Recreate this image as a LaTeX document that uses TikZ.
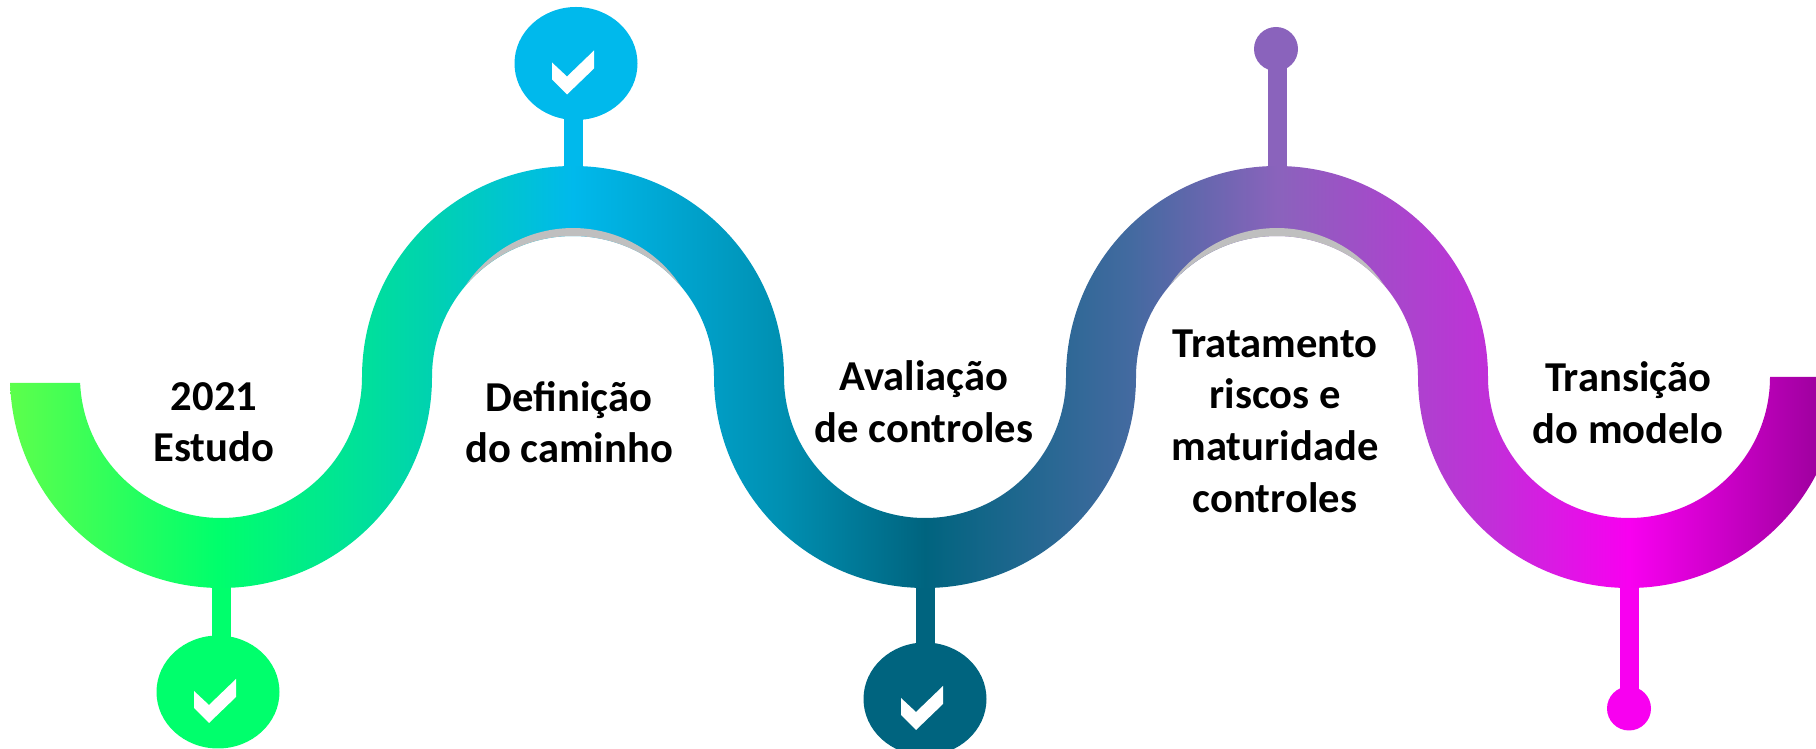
\documentclass[tikz,border=0pt]{standalone}
\usepackage{fontspec}
\setmainfont{Carlito}
\usetikzlibrary{shapes.geometric}

\definecolor{lime}{HTML}{5CFF4C}
\definecolor{spring}{HTML}{00FF6C}
\definecolor{teal1}{HTML}{00D2B0}
\definecolor{sky}{HTML}{00B9EC}
\definecolor{ocean}{HTML}{0090B2}
\definecolor{petrol}{HTML}{00647F}
\definecolor{slate}{HTML}{436AA0}
\definecolor{violet1}{HTML}{8A63BC}
\definecolor{orchid}{HTML}{C030D8}
\definecolor{magenta1}{HTML}{F800F0}
\definecolor{plum1}{HTML}{A000A0}

\pgfdeclarehorizontalshading{ribbonfill}{100bp}{
color(0bp)=(lime); color(25.3bp)=(lime); color(31bp)=(spring);
color(36.84bp)=(teal1); color(40.78bp)=(sky); color(46.48bp)=(ocean);
color(50.47bp)=(petrol); color(56.11bp)=(slate); color(60.16bp)=(violet1);
color(65.97bp)=(orchid); color(69.85bp)=(magenta1); color(75bp)=(plum1);
color(100bp)=(plum1)}

\tikzset{
stagetext/.style={align=center, font=\fontsize{21.3}{25.8}\selectfont\bfseries},
bigdot/.style={ellipse, inner sep=0pt, minimum width=61.5pt, minimum height=56.5pt},
smalldot/.style={circle, inner sep=0pt, minimum size=22pt},
stem/.style={line width=9.5pt}
}

\newcommand{\tickmark}[1]{
\fill[white, shift={(#1.center)}] (-24,1) -- (-24,-16) -- (-9,-31) -- (18,-5) -- (18,13) -- (-9,-13) -- cycle;
}

\begin{document}
\begin{tikzpicture}[x=.5pt,y=.5pt]
\useasboundingbox (0,0) rectangle (1816,749);

\node[bigdot, fill=spring] (dot1) at (218,57) {};
\node[bigdot, fill=sky] (dot2) at (576,685.5) {};
\node[bigdot, fill=petrol] (dot3) at (925,50) {};
\node[smalldot, fill=violet1] (dot4) at (1276,700) {};
\node[smalldot, fill=magenta1] (dot5) at (1629,40.5) {};

\coordinate (root1) at (221,170);
\coordinate (root2) at (573,575);
\coordinate (root3) at (925,170);
\coordinate (root4) at (1277,575);
\coordinate (root5) at (1629,170);

\draw[stem, spring] (root1) -- (root1 |- dot1);
\draw[stem, sky] (root2) -- (root2 |- dot2);
\draw[stem, petrol] (root3) -- (root3 |- dot3);
\draw[stem, violet1] (root4) -- (root4 |- dot4);
\draw[stem, magenta1] (root5) -- (root5 |- dot5);

\begin{scope}
\clip (10.1,366.1) arc (181.6:360:211) arc (180:0:141) arc (180:360:211)
  arc (180:0:141) arc (180:360:211) -- (1770,372)
  arc (360:180:141) arc (0:180:211) arc (360:180:141) arc (0:180:211)
  arc (360:182.4:141) -- cycle;
\shade[shading=ribbonfill] (0,0) rectangle (1816,749);
\end{scope}

\foreach \archx in {573,1277}{
\fill[gray!50, shift={(\archx,372)}] (-108,90.6) arc (146.8:33.2:129) arc (40:140:141) -- cycle;
}

\tickmark{dot1}
\tickmark{dot2}
\tickmark{dot3}

\node[stagetext] (stage1) at (214,327) {2021\\Estudo};
\node[stagetext] (stage2) at (569,327) {Defini\c{c}\~ao\\do caminho};
\node[stagetext] (stage3) at (924,347) {Avalia\c{c}\~ao\\de controles};
\node[stagetext] (stage4) at (1275,328) {Tratamento\\riscos e\\maturidade\\controles};
\node[stagetext] (stage5) at (1628,346) {Transi\c{c}\~ao\\do modelo};
\end{tikzpicture}
\end{document}
